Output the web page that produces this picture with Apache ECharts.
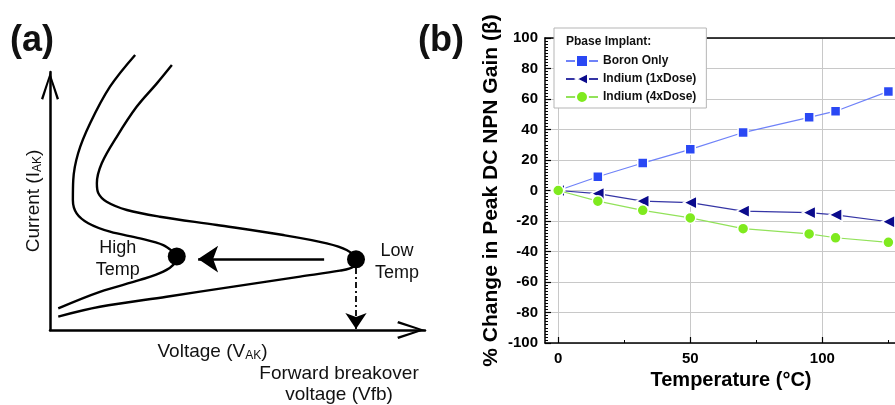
<!DOCTYPE html>
<html>
<head>
<meta charset="utf-8">
<script src="https://cdn.jsdelivr.net/npm/echarts@6/dist/echarts.min.js"></script>
<style>
html,body{margin:0;padding:0;background:#fff;overflow:hidden;}
#chart{width:895px;height:405px;}
</style>
</head>
<body>
<div id="chart"></div>
<script>
// ---------- Panel (b) data ----------
const temperatures = [0, 15, 32, 50, 70, 95, 105, 125];
const boronOnly = [0, 9, 18, 27, 38, 48, 52, 65];
const indium1x = [0, -2, -7, -8, -13.5, -14.5, -16, -20.5];
const indium4x = [0, -7, -13, -18, -25, -28.5, -31, -34];
const seriesNames = ['Boron Only', 'Indium (1xDose)', 'Indium (4xDose)'];
const xMajorTicks = [0, 50, 100];
const xMinorTicks = [25, 75, 125];

// ---------- Panel (a) schematic data (arbitrary units, voltage vs current) ----------
const highTempCurve = [
  [22.7,106.6],[16.0,94.3],[10.7,80.1],[7.5,68.5],[6.2,58.1],[6.1,50.4],[7.1,45.2],
  [10.2,41.4],[16.0,38.1],[24.0,35.5],[30.2,32.9],[33.3,29.7],[33.8,28.7],[33.3,25.9],
  [30.2,22.6],[24.0,19.4],[13.3,14.8],[2.2,8.4]
];
const lowTempCurve = [
  [32.5,102.7],[28.5,95.6],[23.1,86.5],[17.8,74.9],[13.8,64.6],[12.5,56.9],[12.9,53.0],
  [15.1,49.7],[20.5,46.5],[29.3,43.9],[44.5,40.7],[62.2,36.8],[73.8,33.6],[79.1,31.0],
  [81.6,27.4],[80.9,24.5],[77.3,23.0],[66.7,20.7],[48.9,16.8],[31.1,12.9],[13.3,9.0],[2.2,5.2]
];
const breakoverPoints = [[33.8, 28.5, 'High\nTemp'], [81.6, 27.4, 'Low\nTemp']];
const shiftArrow = [[73.1, 27.5], [39.5, 27.5]];
const vfbArrow = [[81.6, 24.0], [81.6, 0.4]];

const FONT = "'Liberation Sans', Arial, Helvetica, sans-serif";
const chevron = 'path://M9,0 L18,26.5 L15.8,27.5 L9,6 L2.2,27.5 L0,26.5 Z';

const chart = echarts.init(document.getElementById('chart'), null, {renderer: 'canvas'});

const option = {
  animation: false,
  backgroundColor: '#fff',
  textStyle: {fontFamily: FONT},
  title: [{
    text: 'Pbase Implant:', left: 566, top: 36, padding: 0, z: 10,
    textStyle: {fontFamily: FONT, fontSize: 12, fontWeight: 'bold', color: '#111'}
  }],
  legend: {
    data: seriesNames,
    orient: 'vertical', left: 554, top: 28,
    padding: [26, 10, 4, 11],
    itemWidth: 32, itemHeight: 15, itemGap: 4,
    backgroundColor: '#fff', borderColor: '#b5b5b5', borderWidth: 1,
    textStyle: {fontFamily: FONT, fontSize: 12, fontWeight: 'bold', color: '#111'},
    z: 5
  },
  grid: [
    {left: 545, top: 38, width: 350, height: 305},
    {left: 50, top: 72, width: 375, height: 258}
  ],
  xAxis: [
    {
      gridIndex: 0, type: 'value', min: -5, max: 127.5, position: 'bottom',
      axisLine: {show: true, onZero: false, lineStyle: {color: '#000', width: 1.5}},
      axisTick: {show: true, inside: true, length: 6, customValues: xMajorTicks, lineStyle: {color: '#000', width: 1.2}},
      axisLabel: {show: true, customValues: xMajorTicks, margin: 8, color: '#000', fontFamily: FONT, fontSize: 15, fontWeight: 'bold'},
      splitLine: {show: true, lineStyle: {color: '#c8c8c8', width: 1}},
      name: 'Temperature (°C)', nameLocation: 'middle', nameGap: 25,
      nameTextStyle: {fontFamily: FONT, fontSize: 20, fontWeight: 'bold', color: '#000', padding: [0, 0, 0, 22]}
    },
    {
      gridIndex: 0, type: 'value', min: -5, max: 127.5, position: 'bottom',
      axisLine: {show: false, onZero: false},
      axisTick: {show: true, inside: true, length: 3, customValues: xMinorTicks, lineStyle: {color: '#000', width: 1}},
      axisLabel: {show: false}, splitLine: {show: false}
    },
    {
      gridIndex: 0, type: 'value', min: -5, max: 127.5, position: 'top',
      axisLine: {show: true, onZero: false, lineStyle: {color: '#000', width: 1.5}},
      axisTick: {show: false}, axisLabel: {show: false}, splitLine: {show: false}
    },
    {
      gridIndex: 1, type: 'value', min: 0, max: 100, position: 'bottom',
      axisLine: {show: true, onZero: false, symbol: ['none', chevron], symbolSize: [18, 28], symbolOffset: [0, -14],
        lineStyle: {color: '#000', width: 2.5}},
      axisTick: {show: false}, axisLabel: {show: false}, splitLine: {show: false},
      name: '{t|Voltage (V}{s|AK}{t|)}', nameLocation: 'middle', nameGap: 12,
      nameTextStyle: {padding: [0, 50, 0, 0], rich: {
        t: {fontFamily: FONT, fontSize: 19, color: '#111'},
        s: {fontFamily: FONT, fontSize: 12, color: '#111', verticalAlign: 'bottom', padding: [8, 0, 0, 0]}
      }}
    }
  ],
  yAxis: [
    {
      gridIndex: 0, type: 'value', min: -100, max: 100, interval: 20,
      axisLine: {show: true, onZero: false, lineStyle: {color: '#000', width: 1.5}},
      axisTick: {show: true, inside: true, length: 6, lineStyle: {color: '#000', width: 1.2}},
      minorTick: {show: true, splitNumber: 10, length: 3, lineStyle: {color: '#000', width: 1}},
      axisLabel: {margin: 7, color: '#000', fontFamily: FONT, fontSize: 15, fontWeight: 'bold'},
      splitLine: {show: true, lineStyle: {color: '#c8c8c8', width: 1}},
      name: '% Change in Peak DC NPN Gain (β)', nameLocation: 'middle', nameGap: 43,
      nameTextStyle: {fontFamily: FONT, fontSize: 21, fontWeight: 'bold', color: '#000'}
    },
    {
      gridIndex: 1, type: 'value', min: 0, max: 100,
      axisLine: {show: true, onZero: false, symbol: ['none', chevron], symbolSize: [18, 28], symbolOffset: [0, -14],
        lineStyle: {color: '#000', width: 2.5}},
      axisTick: {show: false}, axisLabel: {show: false}, splitLine: {show: false},
      name: '{t|Current (I}{s|AK}{t|)}', nameLocation: 'middle', nameGap: 6,
      nameTextStyle: {rich: {
        t: {fontFamily: FONT, fontSize: 19, color: '#111'},
        s: {fontFamily: FONT, fontSize: 12, color: '#111', verticalAlign: 'bottom', padding: [8, 0, 0, 0]}
      }}
    }
  ],
  series: [
    {
      name: seriesNames[0], type: 'line', xAxisIndex: 0, yAxisIndex: 0,
      data: temperatures.map((t, i) => [t, boronOnly[i]]),
      symbol: 'rect', symbolSize: 10,
      itemStyle: {color: '#2a48f4', borderColor: '#fff', borderWidth: 1.5},
      lineStyle: {color: '#6f82f8', width: 1.2}, z: 3
    },
    {
      name: seriesNames[1], type: 'line', xAxisIndex: 0, yAxisIndex: 0,
      data: temperatures.map((t, i) => [t, indium1x[i]]),
      symbol: 'triangle', symbolSize: 13, symbolRotate: 90,
      itemStyle: {color: '#0b0b8c', borderColor: '#fff', borderWidth: 1.5},
      lineStyle: {color: '#3535a5', width: 1.2}, z: 3
    },
    {
      name: seriesNames[2], type: 'line', xAxisIndex: 0, yAxisIndex: 0,
      data: temperatures.map((t, i) => [t, indium4x[i]]),
      symbol: 'circle', symbolSize: 11,
      itemStyle: {color: '#7fea1e', borderColor: '#fff', borderWidth: 1.5},
      lineStyle: {color: '#92e25a', width: 1.2}, z: 4
    },
    {
      name: 'highTemp', type: 'line', xAxisIndex: 3, yAxisIndex: 1,
      data: highTempCurve, smooth: 0.35, symbol: 'none', clip: false,
      lineStyle: {color: '#000', width: 2.4}, silent: true
    },
    {
      name: 'lowTemp', type: 'line', xAxisIndex: 3, yAxisIndex: 1,
      data: lowTempCurve, smooth: 0.35, symbol: 'none', clip: false,
      lineStyle: {color: '#000', width: 2.4}, silent: true
    },
    {
      name: 'points', type: 'scatter', xAxisIndex: 3, yAxisIndex: 1,
      data: breakoverPoints, symbolSize: 18, clip: false,
      itemStyle: {color: '#000', opacity: 1},
      label: {
        show: true, formatter: p => p.data[2],
        color: '#111', fontFamily: FONT, fontSize: 18, lineHeight: 22, align: 'center', verticalAlign: 'middle'
      },
      labelLayout: function (params) {
        const r = params.rect;
        const left = params.dataIndex === 0;
        return {x: left ? r.x - 50 : r.x + r.width + 32, y: r.y + r.height / 2 + 3, align: 'center', verticalAlign: 'middle'};
      },
      z: 5
    },
    {
      name: 'shift', type: 'lines', coordinateSystem: 'cartesian2d', xAxisIndex: 3, yAxisIndex: 1,
      data: [{coords: shiftArrow}],
      symbol: ['none', 'arrow'], symbolSize: [0, 20],
      lineStyle: {color: '#000', width: 2.5, opacity: 1, curveness: 0}, silent: true
    },
    {
      name: 'vfb', type: 'lines', coordinateSystem: 'cartesian2d', xAxisIndex: 3, yAxisIndex: 1,
      data: [{coords: vfbArrow}],
      symbol: ['none', 'arrow'], symbolSize: [0, 16],
      lineStyle: {color: '#000', width: 1.8, opacity: 1, type: [6, 3, 2, 3], curveness: 0}, silent: true
    }
  ],
  graphic: [
    {type: 'text', left: 10, top: 23, style: {text: '(a)', font: "bold 36px " + FONT, fill: '#111'}},
    {type: 'text', left: 418, top: 23, style: {text: '(b)', font: "bold 36px " + FONT, fill: '#111'}},
    {type: 'text', x: 339, y: 384, style: {text: 'Forward breakover\nvoltage (Vfb)', font: "19px " + FONT, fill: '#111',
      align: 'center', verticalAlign: 'middle', lineHeight: 21}}
  ]
};
chart.setOption(option);
</script>
</body>
</html>
